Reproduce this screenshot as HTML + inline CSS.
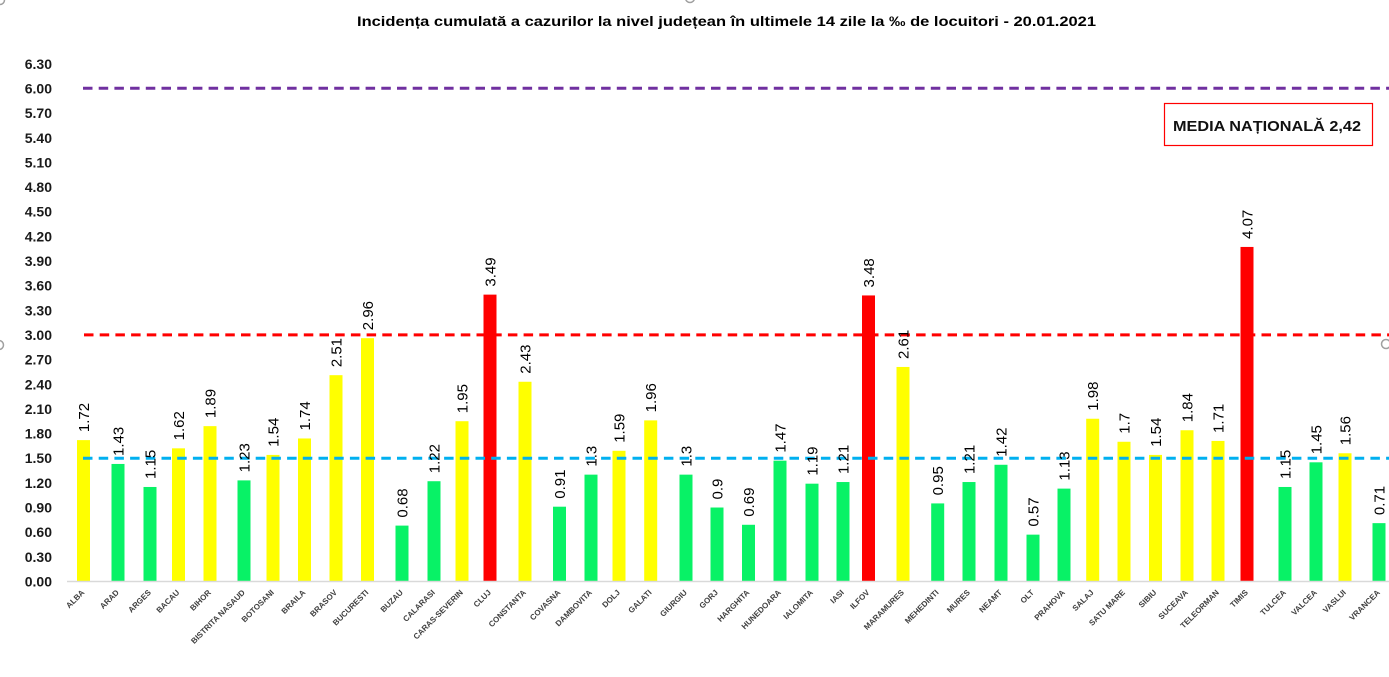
<!DOCTYPE html>
<html><head><meta charset="utf-8"><style>
html,body{margin:0;padding:0;background:#fff;}
svg{display:block;}
text{font-family:"Liberation Sans",Arial,sans-serif;}
</style></head><body>
<svg width="1389" height="677" viewBox="0 0 1389 677" xmlns="http://www.w3.org/2000/svg">
<rect width="1389" height="677" fill="#fff"/>
<!-- handles -->
<circle cx="1386" cy="344" r="4.5" fill="none" stroke="#a0a0a0" stroke-width="1.5"/>
<circle cx="-1" cy="345" r="4.5" fill="none" stroke="#a0a0a0" stroke-width="1.5"/>
<circle cx="0" cy="0" r="4.5" fill="none" stroke="#a0a0a0" stroke-width="1.5"/>
<circle cx="690" cy="-2" r="4.5" fill="none" stroke="#a0a0a0" stroke-width="1.5"/>
<!-- title -->
<text x="357" y="26" font-size="14" font-weight="bold" fill="#000" textLength="739" lengthAdjust="spacingAndGlyphs">Incidența cumulată a cazurilor la nivel județean în ultimele 14 zile la ‰ de locuitori - 20.01.2021</text>
<!-- y labels -->
<g font-size="14" font-weight="bold" fill="#1a1a1a" text-anchor="end">
<text x="52" y="586.5">0.00</text>
<text x="52" y="561.8">0.30</text>
<text x="52" y="537.2">0.60</text>
<text x="52" y="512.5">0.90</text>
<text x="52" y="487.9">1.20</text>
<text x="52" y="463.2">1.50</text>
<text x="52" y="438.6">1.80</text>
<text x="52" y="413.9">2.10</text>
<text x="52" y="389.3">2.40</text>
<text x="52" y="364.6">2.70</text>
<text x="52" y="340.0">3.00</text>
<text x="52" y="315.3">3.30</text>
<text x="52" y="290.7">3.60</text>
<text x="52" y="266.0">3.90</text>
<text x="52" y="241.4">4.20</text>
<text x="52" y="216.7">4.50</text>
<text x="52" y="192.1">4.80</text>
<text x="52" y="167.4">5.10</text>
<text x="52" y="142.8">5.40</text>
<text x="52" y="118.1">5.70</text>
<text x="52" y="93.5">6.00</text>
<text x="52" y="68.8">6.30</text>
</g>
<!-- bars -->
<g id="bars"></g>
<!-- axis -->
<line x1="67" y1="581.5" x2="1389" y2="581.5" stroke="#D9D9D9" stroke-width="1.5"/>
<!-- dashed lines -->
<line x1="83" y1="88.3" x2="1389" y2="88.3" stroke="#7030A0" stroke-width="3" stroke-dasharray="9.5 6.2"/>
<line x1="84" y1="334.9" x2="1389" y2="334.9" stroke="#FF0000" stroke-width="3" stroke-dasharray="9.5 6.2"/>
<line x1="83" y1="458.2" x2="1389" y2="458.2" stroke="#00B0F0" stroke-width="3" stroke-dasharray="9.5 6.2"/>
<g id="labels"></g>
<!-- legend box -->
<rect x="1164.5" y="103.5" width="208" height="42" fill="#fff" stroke="#FF0000" stroke-width="1.2"/>
<text x="1173" y="131" font-size="15" font-weight="bold" fill="#111" textLength="188" lengthAdjust="spacingAndGlyphs">MEDIA NAȚIONALĂ 2,42</text>
</svg>
<script>
var d=[
["ALBA",83.5,1.72,"Y","1.72"],["ARAD",118,1.43,"G","1.43"],["ARGES",150,1.15,"G","1.15"],["BACAU",178.5,1.62,"Y","1.62"],
["BIHOR",210,1.89,"Y","1.89"],["BISTRITA NASAUD",244,1.23,"G","1.23"],["BOTOSANI",273,1.54,"Y","1.54"],["BRAILA",304.5,1.74,"Y","1.74"],
["BRASOV",336,2.51,"Y","2.51"],["BUCURESTI",367.5,2.96,"Y","2.96"],["BUZAU",402,0.68,"G","0.68"],["CALARASI",434,1.22,"G","1.22"],
["CARAS-SEVERIN",462,1.95,"Y","1.95"],["CLUJ",490,3.49,"R","3.49"],["CONSTANTA",525,2.43,"Y","2.43"],["COVASNA",559.5,0.91,"G","0.91"],
["DAMBOVITA",591,1.3,"G","1.3"],["DOLJ",619,1.59,"Y","1.59"],["GALATI",650.7,1.96,"Y","1.96"],["GIURGIU",686,1.3,"G","1.3"],
["GORJ",717,0.9,"G","0.9"],["HARGHITA",748.5,0.69,"G","0.69"],["HUNEDOARA",780,1.47,"G","1.47"],["IALOMITA",812,1.19,"G","1.19"],
["IASI",843,1.21,"G","1.21"],["ILFOV",868.5,3.48,"R","3.48"],["MARAMURES",903,2.61,"Y","2.61"],["MEHEDINTI",937.7,0.95,"G","0.95"],
["MURES",969,1.21,"G","1.21"],["NEAMT",1001,1.42,"G","1.42"],["OLT",1033,0.57,"G","0.57"],["PRAHOVA",1064,1.13,"G","1.13"],
["SALAJ",1092.7,1.98,"Y","1.98"],["SATU MARE",1124,1.7,"Y","1.7"],["SIBIU",1155.5,1.54,"Y","1.54"],["SUCEAVA",1187,1.84,"Y","1.84"],
["TELEORMAN",1218,1.71,"Y","1.71"],["TIMIS",1247,4.07,"R","4.07"],["TULCEA",1285,1.15,"G","1.15"],["VALCEA",1316,1.45,"G","1.45"],
["VASLUI",1345,1.56,"Y","1.56"],["VRANCEA",1379,0.71,"G","0.71"]];
var col={Y:"#FFFF00",G:"#08F266",R:"#FF0000"};
var NS="http://www.w3.org/2000/svg";
var bars=document.getElementById("bars"),labs=document.getElementById("labels");
d.forEach(function(r){
 var cx=r[1],v=r[2],top=581.5-v*82.2;
 var b=document.createElementNS(NS,"rect");
 b.setAttribute("x",cx-6.5);b.setAttribute("y",top);b.setAttribute("width",13);b.setAttribute("height",581.5-top);
 b.setAttribute("fill",col[r[3]]);bars.appendChild(b);
 var t=document.createElementNS(NS,"text");
 t.setAttribute("transform","translate("+(cx+5.5)+","+(top-8)+") rotate(-90)");
 t.setAttribute("font-size","15");t.setAttribute("fill","#000");t.textContent=r[4];labs.appendChild(t);
 var x=document.createElementNS(NS,"text");
 x.setAttribute("transform","translate("+(cx+1.5)+",593) rotate(-45)");
 x.setAttribute("font-size","8");x.setAttribute("font-weight","bold");x.setAttribute("fill","#404040");
 x.setAttribute("text-anchor","end");x.textContent=r[0];labs.appendChild(x);
});
</script>
</body></html>
